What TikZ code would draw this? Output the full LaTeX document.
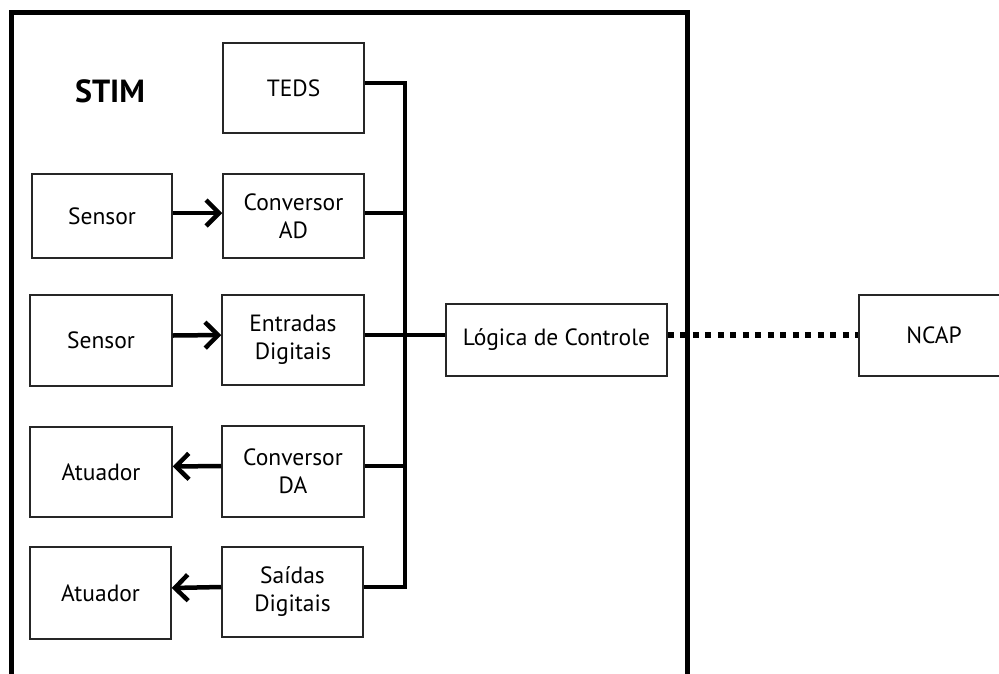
\documentclass[tikz,border=0pt]{standalone}
\usepackage{fontspec}
\setmainfont{PT Sans}
\usetikzlibrary{arrows.meta}
\begin{document}
\begin{tikzpicture}[x=1pt,y=-1pt,
  box/.style={draw=black!85,line width=1.5pt,fill=white,inner sep=0pt,align=center,
    font=\fontsize{23.5}{28}\selectfont},
  bus/.style={line width=4.5pt},
  arr/.style={line width=4.5pt,-{Straight Barb[length=13pt,width=26pt,line width=4.5pt]}},
  dots/.style={line width=5.5pt,dash pattern=on 6pt off 6.5pt}]
\useasboundingbox (0,0) rectangle (999,673);
\fill[white] (0,0) rectangle (999,673);
% outer STIM box (open at bottom)
\draw[line width=5pt] (11.5,680) -- (11.5,12.5) -- (687,12.5) -- (687,680);
\node[font=\bfseries\fontsize{32}{38}\selectfont] (stim) at (110,91) {STIM};
% boxes
\node[box,minimum width=141,minimum height=90] (teds) at (293.5,88) {TEDS};
\node[box,minimum width=140,minimum height=84] (s1) at (102,216) {Sensor};
\node[box,minimum width=141,minimum height=84] (cad) at (293.5,216) {Conversor\\AD};
\node[box,minimum width=142,minimum height=91] (s2) at (101,340.5) {Sensor};
\node[box,minimum width=142,minimum height=90] (ent) at (293,340) {Entradas\\Digitais};
\node[box,minimum width=142,minimum height=90] (a1) at (101,472) {Atuador};
\node[box,minimum width=142,minimum height=91] (cda) at (293,471.5) {Conversor\\DA};
\node[box,minimum width=141,minimum height=92] (a2) at (100.5,593) {Atuador};
\node[box,minimum width=141,minimum height=90] (sai) at (292.5,592) {Saídas\\Digitais};
\node[box,minimum width=221,minimum height=72] (log) at (556.5,340) {Lógica de Controle};
\node[box,minimum width=150,minimum height=81,text width=150] (ncap) at (934,335.5) {NCAP};
% bus
\coordinate (btop) at (405,83);
\coordinate (bbot) at (405,587);
\draw[bus] ([yshift=5pt]teds.east) -- (btop) -- (bbot) -- ([yshift=5pt]sai.east);
\draw[bus] ([yshift=3pt]cad.east) -- ([yshift=3pt]cad.east -| btop);
\draw[bus] ([yshift=5pt]ent.east) -- ([yshift=5pt]log.west);
\draw[bus] ([yshift=5.5pt]cda.east) -- ([yshift=5.5pt]cda.east -| btop);
% arrows
\draw[arr] ([yshift=3pt]s1.east) -- ([yshift=3pt]cad.west);
\draw[arr] ([yshift=5pt]s2.east) -- ([yshift=5pt]ent.west);
\draw[arr] ([yshift=5.5pt]cda.west) -- ([yshift=5.5pt]a1.east);
\draw[arr] ([yshift=5pt]sai.west) -- ([yshift=5pt]a2.east);
% dotted link
\draw[dots] ([yshift=5pt]log.east) -- ([yshift=5pt]log.east -| ncap.west);
\end{tikzpicture}
\end{document}
